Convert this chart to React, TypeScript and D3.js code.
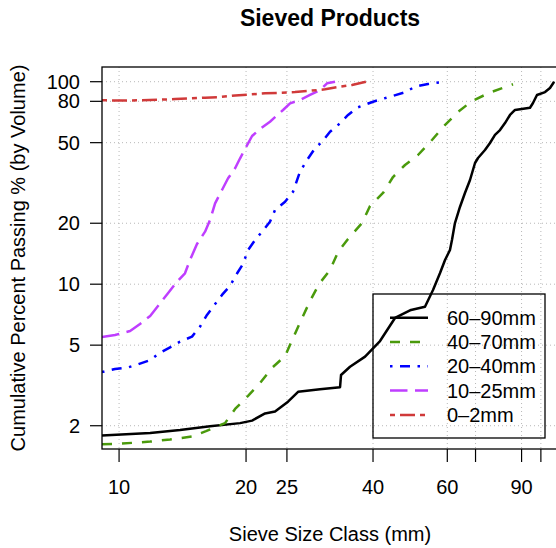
import React from "react";
import * as d3 from "d3";

// sieve curves (size in mm, cumulative % passing)
const size6090 = [9.11, 11.85, 13.95, 16.43, 19.36, 20.67, 22.19, 23.43, 25.15, 26.57, 29.95, 33.41, 33.59, 35.28, 38.3, 41.56, 45.1, 49.22, 53.12, 55.5, 57.67, 59.26, 60.88, 61.55, 62.56, 64.29, 66.07, 67.92, 69.8, 70.96, 73.7, 75.75, 77.84, 80.0, 82.21, 84.49, 86.83, 94.24, 95.79, 97.9, 102.3, 105.1, 107.5];
const pass6090 = [1.79, 1.84, 1.905, 1.99, 2.06, 2.12, 2.3, 2.35, 2.63, 2.94, 3.03, 3.1, 3.56, 3.91, 4.39, 5.24, 6.81, 7.46, 7.74, 9.36, 11.36, 13.17, 14.75, 16.53, 20.05, 24.06, 28.21, 32.7, 39.67, 42.0, 46.0, 49.8, 54.6, 57.7, 62.5, 68.5, 72.5, 74.4, 78.5, 86.0, 88.9, 93.1, 100];

const size4070 = [9.11, 10.05, 11.85, 13.21, 14.89, 16.07, 17.83, 18.84, 20.22, 21.59, 23.04, 24.75, 25.85, 27.16, 28.36, 29.79, 31.63, 33.05, 34.9, 37.67, 39.35, 42.24, 44.61, 47.63, 51.13, 55.19, 58.94, 63.6, 68.66, 75.75, 85.89];
const pass4070 = [1.62, 1.63, 1.67, 1.71, 1.77, 1.88, 2.06, 2.42, 2.81, 3.25, 3.86, 4.42, 5.42, 6.81, 8.26, 10.02, 11.75, 14.42, 16.72, 20.05, 24.33, 28.21, 33.83, 38.78, 43.45, 51.54, 60.42, 70.86, 80.28, 88.43, 97.1];

const size2040 = [9.11, 9.78, 10.5, 11.09, 11.85, 12.37, 13.21, 13.95, 14.89, 15.56, 16.16, 16.89, 17.54, 18.33, 19.05, 19.67, 20.22, 21.01, 21.83, 22.79, 23.43, 24.75, 25.85, 26.85, 27.91, 29.14, 30.28, 31.63, 33.41, 34.9, 36.65, 40.0, 43.88, 47.63, 50.3, 54.0, 58.3];
const pass2040 = [3.68, 3.81, 3.88, 4.02, 4.22, 4.52, 4.88, 5.2, 5.51, 6.17, 7.05, 7.98, 8.85, 9.83, 11.32, 12.58, 14.75, 16.53, 18.17, 20.35, 23.25, 25.55, 28.62, 35.94, 41.05, 46.9, 50.53, 56.63, 62.32, 68.5, 74.4, 79.65, 84.33, 88.6, 94.5, 97.4, 99.7];

const size1025 = [9.11, 9.78, 10.62, 11.21, 11.85, 12.51, 13.06, 13.72, 14.33, 14.73, 15.3, 15.99, 16.43, 16.89, 17.54, 18.13, 18.84, 19.36, 19.89, 20.67, 21.59, 22.79, 24.48, 25.43, 26.85, 28.36, 29.95, 31.12, 32.51];
const pass1025 = [5.49, 5.61, 5.87, 6.36, 6.97, 8.05, 9.02, 10.29, 11.32, 13.17, 15.79, 18.17, 20.75, 25.09, 29.18, 33.34, 37.35, 41.85, 46.53, 53.95, 58.4, 63.46, 72.5, 78.2, 81.2, 86.0, 91.0, 98.2, 100];

const size002 = [9.11, 10.05, 11.21, 12.51, 13.58, 14.73, 15.99, 17.35, 18.84, 20.44, 22.19, 24.08, 26.14, 28.36, 30.78, 33.41, 35.66, 38.49];
const pass002 = [80.9, 80.8, 80.9, 81.5, 82.1, 82.8, 83.4, 84.0, 85.5, 86.5, 87.6, 88.2, 88.9, 90.2, 91.7, 94.5, 96.3, 100];

const seriesNames = ["60–90mm", "40–70mm", "20–40mm", "10–25mm", "0–2mm"];
const seriesColors = ["#000000", "#4a9a0c", "#0000ff", "#bf3eff", "#d03a3a"];
const seriesDash = ["none", "10 10", "2.5 7.5 10 7.5", "17.5 7.5", "5 5 15 5"];

const xTicks = [10, 20, 25, 40, 60, 70, 90, 100];
const xTickLabels = ["10", "20", "25", "40", "60", "", "90", ""];
const yTicks = [2, 5, 10, 20, 50, 80, 100];
const yTickLabels = ["2", "5", "10", "20", "50", "80", "100"];

const W = 556;
const H = 548;
const plot = { left: 102, right: 558, top: 67, bottom: 449 };
const font = "'Liberation Sans', Arial, Helvetica, sans-serif";

export default function App() {
  const x = d3.scaleLog().domain([9.11, 109.8]).range([plot.left, plot.right]);
  const y = d3.scaleLog().domain([1.535, 118.2]).range([plot.bottom, plot.top]);

  const series = [
    [size6090, pass6090],
    [size4070, pass4070],
    [size2040, pass2040],
    [size1025, pass1025],
    [size002, pass002],
  ].map(([xs, ys]) => xs.map((v, i) => [v, ys[i]] as [number, number]));

  const line = d3
    .line<[number, number]>()
    .x((d) => x(d[0]))
    .y((d) => y(d[1]));

  const legend = { left: 373, top: 294, right: 545, bottom: 438, row0: 317.7, step: 24.3 };

  return (
    <svg
      width={W}
      height={H}
      style={{ position: "absolute", left: 0, top: 0, background: "#fff" }}
      fontFamily={font}
    >
      <defs>
        <clipPath id="plotClip">
          <rect x={plot.left} y={plot.top} width={plot.right - plot.left} height={plot.bottom - plot.top} />
        </clipPath>
      </defs>

      {/* grid */}
      {xTicks.map((t) => (
        <line key={"gx" + t} x1={x(t)} x2={x(t)} y1={plot.top} y2={plot.bottom}
          stroke="#b8b8b8" strokeWidth={1} strokeDasharray="1 3" />
      ))}
      {yTicks.map((t) => (
        <line key={"gy" + t} x1={plot.left} x2={plot.right} y1={y(t)} y2={y(t)}
          stroke="#b8b8b8" strokeWidth={1} strokeDasharray="1 3" />
      ))}

      {/* curves */}
      <g clipPath="url(#plotClip)">
        {series.map((s, i) => (
          <path key={i} d={line(s) || ""} fill="none" stroke={seriesColors[i]}
            strokeWidth={2.5} strokeDasharray={seriesDash[i]} strokeLinejoin="round" />
        ))}
      </g>

      {/* box */}
      <rect x={plot.left} y={plot.top} width={plot.right - plot.left} height={plot.bottom - plot.top}
        fill="none" stroke="#000" strokeWidth={1.3} />

      {/* x axis */}
      {xTicks.map((t, i) => (
        <g key={"xt" + t}>
          <line x1={x(t)} x2={x(t)} y1={plot.bottom} y2={plot.bottom + 13} stroke="#000" strokeWidth={1.2} />
          <text x={x(t)} y={494} fontSize={20} textAnchor="middle">{xTickLabels[i]}</text>
        </g>
      ))}

      {/* y axis */}
      {yTicks.map((t, i) => (
        <g key={"yt" + t}>
          <line x1={plot.left - 12} x2={plot.left} y1={y(t)} y2={y(t)} stroke="#000" strokeWidth={1.2} />
          <text x={80} y={y(t) + 7} fontSize={20} textAnchor="end">{yTickLabels[i]}</text>
        </g>
      ))}

      <text x={(plot.left + plot.right) / 2} y={26} fontSize={23} fontWeight="bold" textAnchor="middle">
        Sieved Products
      </text>
      <text x={(plot.left + plot.right) / 2} y={541} fontSize={20} textAnchor="middle">
        Sieve Size Class (mm)
      </text>
      <text transform={`translate(25,${(plot.top + plot.bottom) / 2}) rotate(-90)`} fontSize={20} textAnchor="middle">
        Cumulative Percent Passing % (by Volume)
      </text>

      {/* legend */}
      <rect x={legend.left} y={legend.top} width={legend.right - legend.left} height={legend.bottom - legend.top}
        fill="none" stroke="#000" strokeWidth={1.3} />
      {seriesNames.map((name, i) => {
        const ly = legend.row0 + i * legend.step;
        return (
          <g key={name}>
            <line x1={390} x2={428} y1={ly} y2={ly} stroke={seriesColors[i]} strokeWidth={2.5}
              strokeDasharray={seriesDash[i]} />
            <text x={447} y={ly + 7} fontSize={20}>{name}</text>
          </g>
        );
      })}
    </svg>
  );
}
